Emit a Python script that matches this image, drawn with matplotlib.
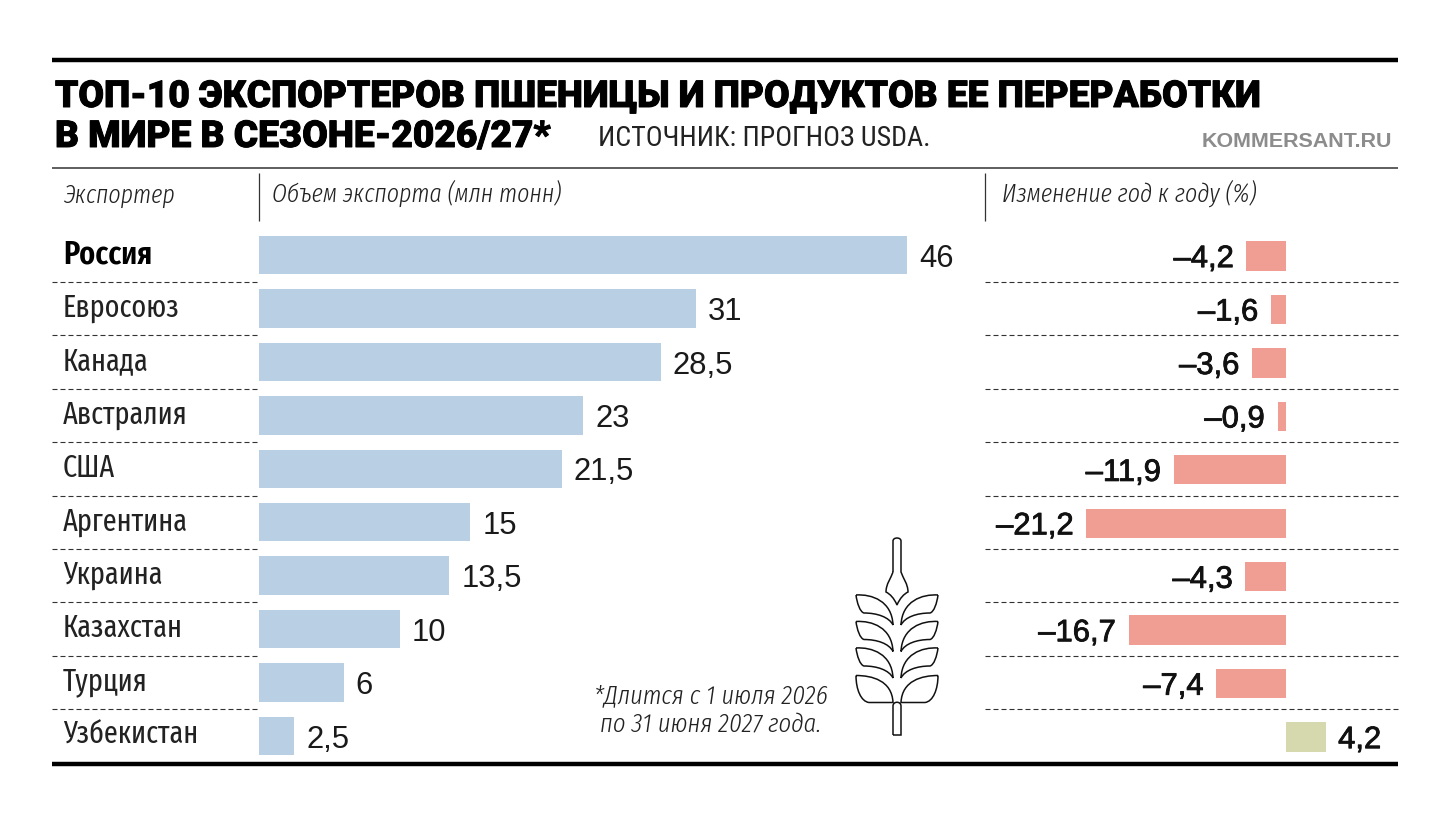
import matplotlib
matplotlib.use("Agg")
import matplotlib.pyplot as plt
from matplotlib.path import Path
from matplotlib.patches import PathPatch
import matplotlib.patheffects as pe

countries = ["Россия", "Евросоюз", "Канада", "Австралия", "США", "Аргентина", "Украина", "Казахстан", "Турция", "Узбекистан"]
volumes = [46, 31, 28.5, 23, 21.5, 15, 13.5, 10, 6, 2.5]
changes = [-4.2, -1.6, -3.6, -0.9, -11.9, -21.2, -4.3, -16.7, -7.4, 4.2]
title_lines = ["ТОП-10 ЭКСПОРТЕРОВ ПШЕНИЦЫ И ПРОДУКТОВ ЕЕ ПЕРЕРАБОТКИ", "В МИРЕ В СЕЗОНЕ-2026/27*"]
source = "ИСТОЧНИК: ПРОГНОЗ USDA."
brand = "KOMMERSANT.RU"
col_heads = ["Экспортер", "Объем экспорта (млн тонн)", "Изменение год к году (%)"]
footnote = ["*Длится с 1 июля 2026", "по 31 июня 2027 года."]

W, H = 1455, 822
NARROW = ["Fira Sans Extra Condensed", "Roboto Condensed", "Liberation Sans"]
HEAVY = ["Roboto", "DejaVu Sans"]
COND = ["Roboto Condensed", "Liberation Sans"]
px = lambda p: p * 0.72

fig = plt.figure(figsize=(W / 100, H / 100), dpi=100, facecolor="white")
bg = fig.add_axes([0, 0, 1, 1])
bg.set_xlim(0, W); bg.set_ylim(H, 0); bg.axis("off")

def axes_px(x0, x1, y0, y1):
    a = fig.add_axes([x0 / W, 1 - y1 / H, (x1 - x0) / W, (y1 - y0) / H])
    a.axis("off"); a.patch.set_alpha(0)
    return a

# rules
bg.plot([52, 1398], [60, 60], color="black", lw=3.2, solid_capstyle="butt")
bg.plot([52, 1398], [764, 764], color="black", lw=3.2, solid_capstyle="butt")
bg.plot([52, 1398], [168, 168], color="#333333", lw=1.1, solid_capstyle="butt")
for x in (259, 985):
    bg.plot([x, x], [173, 221], color="#333333", lw=0.9, solid_capstyle="butt")

# title
for t, y in zip(title_lines, (107, 147)):
    bg.text(55, y, t, fontsize=px(37.1), family=HEAVY, fontweight=900, color="black", va="baseline", ha="left",
            path_effects=[pe.withStroke(linewidth=0.7, foreground="black")])
bg.text(598, 146, source, fontsize=px(28), family=COND, color="#222222", va="baseline", ha="left")
bg.text(1392, 147, brand, fontsize=px(21.5), family="Liberation Sans", fontweight="bold", color="#8c8c8c", va="baseline", ha="right")

# column heads
for t, x in zip(col_heads, (63, 272, 1002)):
    bg.text(x, 203, t, fontsize=18.7, family=NARROW, style="italic", fontweight=300, color="#222222", va="baseline", ha="left")

# rows
step = 53.45
row0 = 255
ytop = row0 - step / 2
n = len(countries)
ybot = ytop + step * n
ax1 = axes_px(259, 975, ytop, ybot)
k1 = 14.09
ax1.set_xlim(0, (975 - 259) / k1); ax1.set_ylim(n - 0.5, -0.5)
ax2 = axes_px(985, 1398, ytop + 1, ybot + 1)
k2 = 9.43
ax2.set_xlim(-(1286 - 985) / k2, (1398 - 1286) / k2); ax2.set_ylim(n - 0.5, -0.5)

rows = list(range(n))
ax1.barh(rows, volumes, height=0.72, color="#b9cfe4")
for i, v in zip(rows, volumes):
    ax1.annotate(f"{v:g}".replace(".", ","), (v, i), xytext=(8.6, -8.4), textcoords="offset points",
                 fontsize=px(31), family="Liberation Sans", color="#1a1a1a", va="baseline", ha="left")

ax2.barh(rows, changes, height=0.55, color=["#f09d93" if c < 0 else "#d6d8ae" for c in changes])
for i, c in zip(rows, changes):
    s = f"{abs(c):g}".replace(".", ",")
    lab = ("–" + s) if c < 0 else s
    ax2.annotate(lab, (c, i), xytext=(-9 if c < 0 else 9, -8.0), textcoords="offset points",
                 fontsize=px(31), family="Liberation Sans", color="#111111", va="baseline",
                 ha="right" if c < 0 else "left",
                 path_effects=[pe.withStroke(linewidth=0.6, foreground="#111111")])

for i, name in enumerate(countries):
    bold = i == 0
    bg.text(63, row0 + 8 + step * i, name, fontsize=23.5 if bold else 22, family=NARROW, fontweight=600 if bold else 400,
            color="black" if bold else "#222222", va="baseline", ha="left")
for i in range(1, n):
    y = ytop + step * i
    bg.plot([52, 259], [y, y], color="#333333", lw=0.8, dashes=(4.5, 2.7))
    bg.plot([985, 1398], [y, y], color="#333333", lw=0.8, dashes=(4.5, 2.7))

for t, y in zip(footnote, (703, 731)):
    bg.text(711, y, t, fontsize=19.3, family=NARROW, style="italic", fontweight=300, color="#222222", va="baseline", ha="center")

# wheat icon
M, L, C = Path.MOVETO, Path.LINETO, Path.CURVE4
def stroke(segs):
    verts, codes = [], []
    for seg in segs:
        if len(seg) == 1:
            verts.append(seg[0]); codes.append(L if verts[:-1] else M)
        else:
            verts += seg; codes += [C] * 3
    bg.add_patch(PathPatch(Path(verts, codes), fc="none", ec="#111111", lw=1.1))

stroke([[(893, 572)], [(893, 541)], [(893, 537), (901, 537), (901, 541)], [(901, 572)],
        [(903, 578), (908, 584), (908, 592)], [(904, 594), (900, 598), (897, 605)],
        [(894, 598), (890, 594), (886, 592)], [(886, 584), (891, 578), (893, 572)]])
stroke([[(893, 735)], [(893, 706)], [(893, 701), (901, 701), (901, 706)], [(901, 735)], [(893, 735)]])
for j, t in enumerate((595, 621.5, 648, 675.5)):
    for s in (-1, 1):
        f = lambda d, y: (897 + s * d, y)
        if j == 3:
            stroke([[f(41, t)], [f(25, t), f(5, t + 5), f(4, t + 27)], [f(28, t + 27)],
                    [f(36, t + 26), f(41, t + 14), f(41, t)]])
        else:
            stroke([[f(41, t)], [f(25, t - 1), f(5, t + 6), f(4, t + 30)],
                    [f(8, t + 22), f(20, t + 18), f(33, t + 18)], [f(37, t + 17), f(40, t + 8), f(41, t)]])

fig.savefig("out.png", dpi=100, facecolor="white")
